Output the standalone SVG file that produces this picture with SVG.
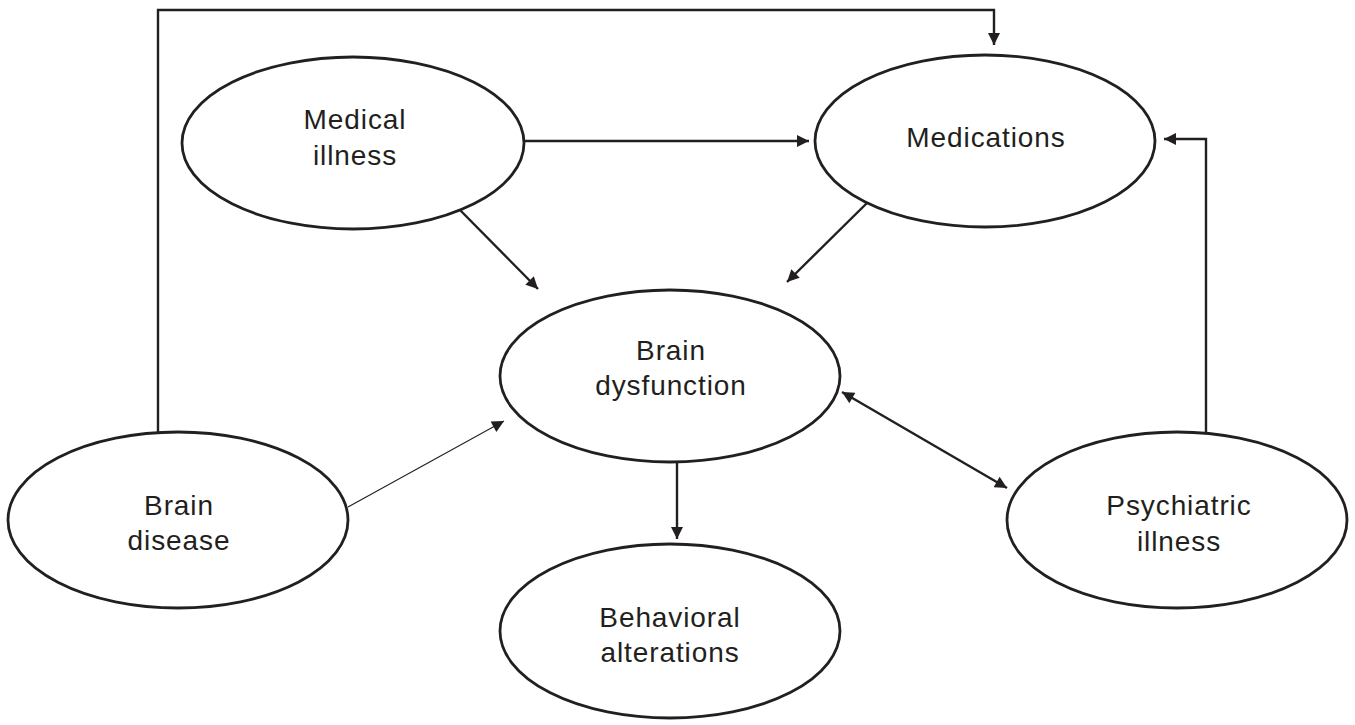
<svg xmlns="http://www.w3.org/2000/svg" width="1355" height="725" viewBox="0 0 1355 725">
<style>
.node ellipse{fill:#fff;stroke:#231f20;stroke-width:2.8}
.node text{font-family:"Liberation Sans",Arial,sans-serif;font-size:28px;letter-spacing:0.9px;fill:#231f20;text-anchor:middle}
.conn path{fill:none;stroke:#231f20;stroke-width:2.4}
.conn path.thin{stroke-width:1.1}
</style>
<defs>
<marker id="ah" viewBox="0 0 10 10" refX="10" refY="5" markerWidth="14" markerHeight="12" markerUnits="userSpaceOnUse" orient="auto-start-reverse">
<path d="M0,0 L10,5 L0,10 z" fill="#231f20"/>
</marker>
</defs>
<rect width="1355" height="725" fill="#fff"/>
<g id="connectors" class="conn">
<path d="M158,432 V10 H994 V45" marker-end="url(#ah)"/>
<path d="M525,141 H809" marker-end="url(#ah)"/>
<path d="M460,210 L538,289" marker-end="url(#ah)"/>
<path d="M867,203 L787,282" marker-end="url(#ah)"/>
<path d="M1206,432 V139 H1164" marker-end="url(#ah)"/>
<path d="M842,392 L1007,488" marker-start="url(#ah)" marker-end="url(#ah)"/>
<path d="M677,462 V539" marker-end="url(#ah)"/>
<path class="thin" d="M348,507 L504,421" marker-end="url(#ah)"/>
</g>
<g id="medical-illness" class="node">
<ellipse cx="353" cy="143" rx="171" ry="86"/>
<text x="355" y="129">Medical</text>
<text x="355" y="165">illness</text>
</g>
<g id="medications" class="node">
<ellipse cx="985" cy="141" rx="170" ry="86"/>
<text x="986" y="147">Medications</text>
</g>
<g id="brain-dysfunction" class="node">
<ellipse cx="670" cy="376" rx="170" ry="86"/>
<text x="671" y="360">Brain</text>
<text x="671" y="395">dysfunction</text>
</g>
<g id="brain-disease" class="node">
<ellipse cx="178" cy="520" rx="170" ry="88"/>
<text x="179" y="515">Brain</text>
<text x="179" y="550">disease</text>
</g>
<g id="psychiatric-illness" class="node">
<ellipse cx="1177" cy="520" rx="170" ry="88"/>
<text x="1179" y="515">Psychiatric</text>
<text x="1179" y="551">illness</text>
</g>
<g id="behavioral-alterations" class="node">
<ellipse cx="670" cy="631" rx="170" ry="87"/>
<text x="670" y="627">Behavioral</text>
<text x="670" y="662">alterations</text>
</g>
</svg>
